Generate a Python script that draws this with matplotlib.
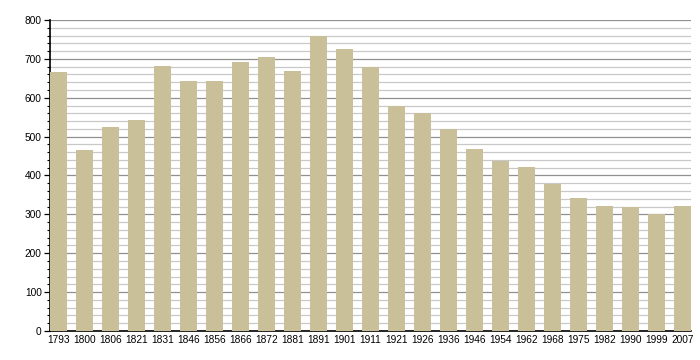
import numpy as np
import matplotlib.pyplot as plt
from matplotlib.ticker import MultipleLocator

years = ["1793", "1800", "1806", "1821", "1831", "1846", "1856", "1866", "1872",
         "1881", "1891", "1901", "1911", "1921", "1926", "1936", "1946", "1954",
         "1962", "1968", "1975", "1982", "1990", "1999", "2007"]
population = [667, 466, 525, 543, 682, 643, 643, 692, 705, 669, 759, 725, 679,
              579, 561, 520, 468, 437, 422, 378, 342, 321, 320, 301, 321]

plt.rcParams['font.family'] = ['Liberation Sans', 'DejaVu Sans']

fig = plt.figure(figsize=(7, 3.6), dpi=100)
ax = fig.add_axes([50 / 700, 29 / 360, 641 / 700, 311 / 360])

w = 0.65
x = np.arange(len(years))
ax.bar(x, population, width=w, align='edge', color='#c9c09a', zorder=3)

ax.set_xlim(0, len(years) - 1 + w)
ax.set_ylim(0, 800)
ax.set_xticks(x + w / 2)
ax.set_xticklabels(years)
ax.yaxis.set_major_locator(MultipleLocator(100))
ax.yaxis.set_minor_locator(MultipleLocator(20))

ax.grid(True, which='major', axis='y', color='#909090', lw=0.9, zorder=1)
ax.grid(True, which='minor', axis='y', color='#c8c8c8', lw=0.9, zorder=1)

for s in ['top', 'right']:
    ax.spines[s].set_visible(False)
ax.spines['left'].set_linewidth(1.2)
ax.spines['bottom'].set_linewidth(1.2)

ax.tick_params(axis='x', length=0, pad=3, labelsize=7.3)
ax.tick_params(axis='y', which='major', length=4, width=0.9, labelsize=7.3, pad=2)
ax.tick_params(axis='y', which='minor', length=2.5, width=0.8)

fig.savefig("out.png", dpi=100)
